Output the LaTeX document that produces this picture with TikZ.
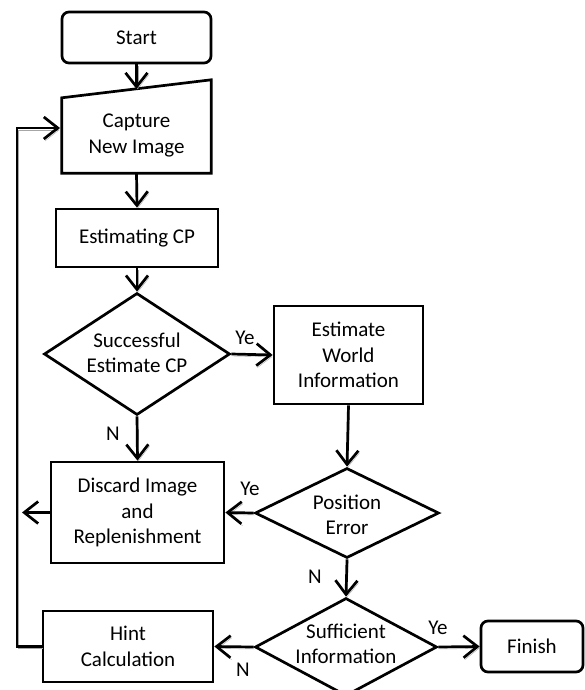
\documentclass[tikz,border=0pt]{standalone}
\usepackage{fontspec}
\setmainfont{Carlito}
\usetikzlibrary{shapes.geometric,arrows.meta}
\begin{document}
\begin{tikzpicture}[x=1pt,y=-1pt,
  every node/.style={font=\fontsize{21}{25.5}\selectfont, align=center},
  box/.style={draw, rectangle, inner sep=0pt, line width=2.7pt},
  rbox/.style={draw, rectangle, rounded corners=7pt, inner sep=0pt, line width=2.7pt},
  dec/.style={draw, diamond, inner sep=0pt, line width=2.7pt},
  txt/.style={inner sep=0pt},
  lbl/.style={inner sep=0pt},
  conn/.style={line width=2.7pt, -{Straight Barb[length=14pt,width=22pt]},
    preaction={draw=black!35, transform canvas={shift={(1.2pt,-2pt)}}}}
]
\useasboundingbox (0,0) rectangle (584,690);

% nodes
\node[rbox, minimum width=149pt, minimum height=51pt] (start) at (136.5,37.5) {Start};
\node[inner sep=0pt, minimum width=149pt, minimum height=75pt] (cap) at (136.5,135.5) {Capture\\New Image};
\draw[line width=2.7pt, line join=miter] (cap.south west) -- (cap.north west) -- ([yshift=18pt]cap.north east) -- (cap.south east) -- cycle;
\coordinate (captop) at (136.5,89);
\node[box, minimum width=162pt, minimum height=58pt] (est) at (137,238) {Estimating CP};
\node[dec, minimum width=186pt, minimum height=122pt] (succ) at (137,354) {};
\node[txt] (succt) at (137,353) {Successful\\Estimate CP};
\node[box, minimum width=149pt, minimum height=98pt] (world) at (348.5,355) {Estimate\\World\\Information};
\node[box, minimum width=173pt, minimum height=101pt] (discard) at (137.5,512.5) {Discard Image\\and\\Replenishment};
\node[dec, minimum width=184pt, minimum height=90pt] (pos) at (347,513) {};
\node[txt] (post) at (347,515) {Position\\Error};
\node[dec, minimum width=182pt, minimum height=98pt] (suff) at (346,647) {};
\node[txt] (sufft) at (346,644) {Sufficient\\Information};
\node[box, minimum width=170pt, minimum height=71pt] (hint) at (128,646.5) {Hint\\Calculation};
\node[rbox, minimum width=102pt, minimum height=51pt] (finish) at (532,646.5) {Finish};

% free ends
\coordinate (discardend) at (22,512.5);
\coordinate (loopbottom) at (17,646.5);
\coordinate (looptop) at (17,128);
\coordinate (loopend) at (60,128);

% connectors
\draw[conn] (start.south) -- (captop);
\draw[conn] (cap.south) -- (est.north);
\draw[conn] (est.south) -- (succ.north);
\draw[conn] (succ.east) -- (world.west);
\draw[conn] (succ.south) -- (discard.north);
\draw[conn] (world.south) -- (pos.north);
\draw[conn] (pos.west) -- (discard.east);
\draw[conn] (pos.south) -- (suff.north);
\draw[conn] (suff.west) -- (hint.east);
\draw[conn] (suff.east) -- (finish.west);
\draw[line width=2.7pt, -{Straight Barb[length=14pt,width=22pt]}] (discard.west) -- (discardend);
\draw[conn, line join=miter] (hint.west) -- (loopbottom) -- (looptop) -- (loopend);

% labels
\node[lbl] (l1) at (245,338) {Ye};
\node[lbl] (l2) at (113,434) {N};
\node[lbl] (l3) at (250,489) {Ye};
\node[lbl] (l4) at (315,577) {N};
\node[lbl] (l5) at (243,670) {N};
\node[lbl] (l6) at (438,628) {Ye};
\end{tikzpicture}
\end{document}
